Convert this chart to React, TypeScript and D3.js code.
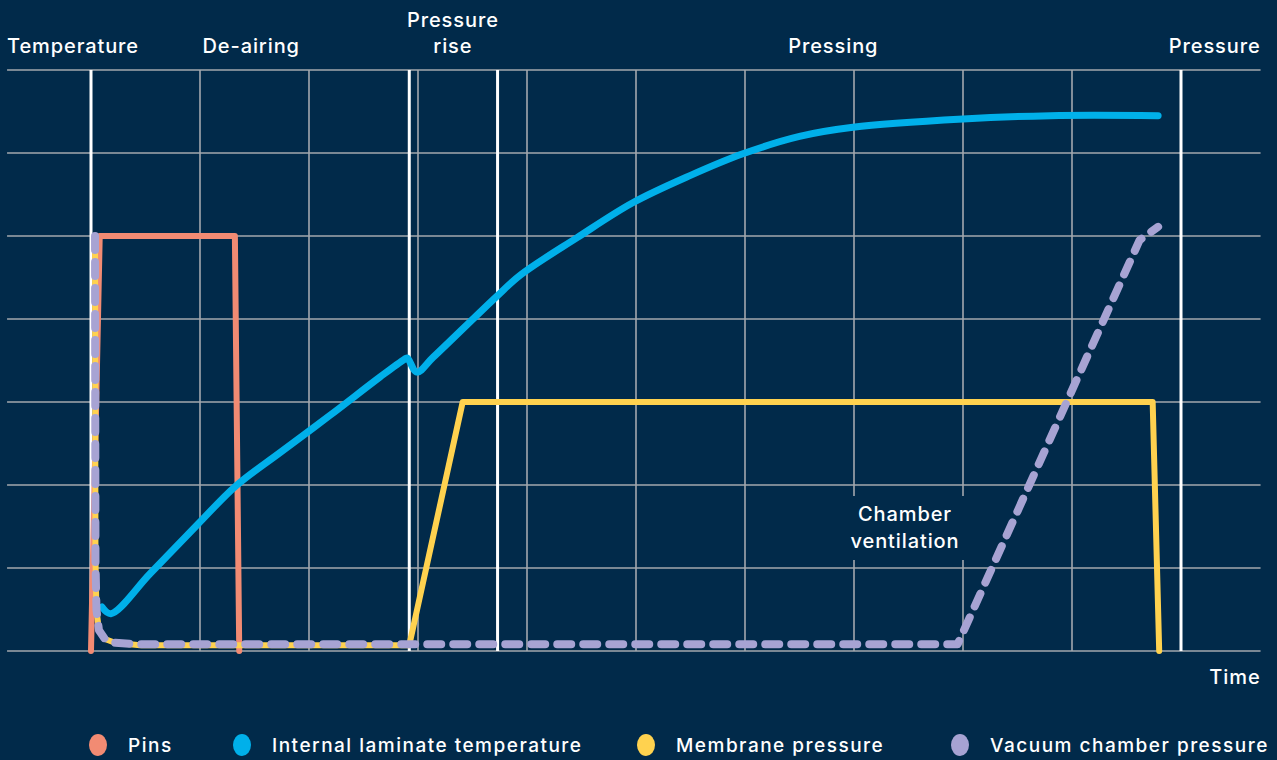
import React from "react";
import * as d3 from "d3";

// time units 0..100, level units 0..7
const gridTimes = [10, 20, 30, 40, 50, 60, 70, 80, 90];
const phaseTimes = [0, 29.2, 37.3, 100];
const gridLevels = [0, 1, 2, 3, 4, 5, 6, 7];

const phaseLabels = [
  { lines: ["Temperature"], t: -7.7, anchor: "start" },
  { lines: ["De-airing"], t: 14.7, anchor: "middle" },
  { lines: ["Pressure", "rise"], t: 33.2, anchor: "middle" },
  { lines: ["Pressing"], t: 68.1, anchor: "middle" },
  { lines: ["Pressure"], t: 107.3, anchor: "end" },
];

const pins = [
  [0, 0], [0.8, 5], [13.2, 5], [13.6, 0],
];

const laminateTemp = [
  [1.01, 0.53], [1.83, 0.45], [5.41, 0.93], [9.82, 1.53], [13.3, 1.99],
  [17.34, 2.39], [21.93, 2.84], [26.5, 3.30], [28.7, 3.51], [29.0, 3.53],
  [29.9, 3.36], [31.4, 3.54], [37.2, 4.27], [39.4, 4.53], [44.6, 4.98],
  [49.7, 5.40], [55.0, 5.73], [59.8, 5.99], [65.0, 6.2], [69.9, 6.31],
  [80.0, 6.41], [88.0, 6.45], [97.9, 6.45],
];

const membranePressure = [
  [0.37, 5], [0.41, 1.1], [0.5, 0.5], [0.73, 0.25], [1.28, 0.145],
  [2.2, 0.1], [4.5, 0.07], [29.2, 0.07], [34.1, 3], [97.4, 3], [98.0, 0],
];

const vacuumPressure = [
  [0.37, 5], [0.41, 1.1], [0.5, 0.5], [0.73, 0.25], [1.28, 0.145],
  [2.2, 0.1], [4.5, 0.08], [79.5, 0.08], [96.2, 4.95], [97.9, 5.11],
];

const legendItems = [
  { name: "Pins", color: "#f28b73" },
  { name: "Internal laminate temperature", color: "#00b0ea" },
  { name: "Membrane pressure", color: "#ffd24f" },
  { name: "Vacuum chamber pressure", color: "#a7a3d3" },
];
const legendX = [98, 242, 646, 960];

const W = 1277;
const H = 760;
const BG = "#012a4a";
const FONT = "Inter, 'Noto Sans', sans-serif";

export default function App() {
  const x = d3.scaleLinear().domain([0, 100]).range([91, 1181]);
  const y = d3.scaleLinear().domain([0, 7]).range([651, 70]);

  const linear = d3.line<number[]>().x((d) => x(d[0])).y((d) => y(d[1]));
  const smooth = d3
    .line<number[]>()
    .x((d) => x(d[0]))
    .y((d) => y(d[1]))
    .curve(d3.curveCatmullRom.alpha(0.5));

  const x0 = x(-7.7);
  const x1 = x(107.3);

  const label = { fill: "#fff", fontFamily: FONT, fontSize: 20, fontWeight: 500, letterSpacing: 0.9 };

  return (
    <div style={{ position: "fixed", left: 0, top: 0 }}>
      <svg width={W} height={H} style={{ display: "block", background: BG }}>
        <rect width={W} height={H} fill={BG} />
        {gridLevels.map((v) => (
          <line key={"h" + v} x1={x0} x2={x1} y1={y(v)} y2={y(v)} stroke="#a3a8ae" strokeWidth={1.6} />
        ))}
        {gridTimes.map((t) => (
          <line key={"v" + t} x1={x(t)} x2={x(t)} y1={y(7)} y2={y(0)} stroke="#a3a8ae" strokeWidth={1.6} />
        ))}
        {phaseTimes.map((t) => (
          <line key={"p" + t} x1={x(t)} x2={x(t)} y1={y(7)} y2={y(0)} stroke="#ffffff" strokeWidth={3} />
        ))}

        {/* chamber ventilation label with backing */}
        <rect x={843} y={496} width={126} height={64} fill={BG} />
        <text x={905} y={521} textAnchor="middle" {...label}>
          Chamber
        </text>
        <text x={905} y={548} textAnchor="middle" {...label}>
          ventilation
        </text>

        <path d={linear(pins) || ""} fill="none" stroke="#f28b73" strokeWidth={6} strokeLinecap="round" strokeLinejoin="round" />
        <path d={smooth(laminateTemp) || ""} fill="none" stroke="#00b0ea" strokeWidth={7} strokeLinecap="round" strokeLinejoin="round" />
        <path d={linear(membranePressure) || ""} fill="none" stroke="#ffd24f" strokeWidth={6} strokeLinecap="round" strokeLinejoin="round" />
        <path
          d={linear(vacuumPressure) || ""}
          fill="none"
          stroke="#a7a3d3"
          strokeWidth={8}
          strokeLinecap="round"
          strokeLinejoin="round"
          strokeDasharray="14 12"
        />

        {phaseLabels.map((p) =>
          p.lines.map((ln, i) => (
            <text
              key={p.lines.join() + i}
              x={x(p.t)}
              y={53 - (p.lines.length - 1 - i) * 26}
              textAnchor={p.anchor as any}
              {...label}
            >
              {ln}
            </text>
          ))
        )}
        <text x={x1} y={684} textAnchor="end" {...label}>
          Time
        </text>

        {legendItems.map((d, i) => (
          <g key={d.name} transform={`translate(${legendX[i]},745)`}>
            <ellipse rx={9} ry={11} fill={d.color} />
            <text x={30} y={7} fill="#fff" fontFamily={FONT} fontSize={19} fontWeight={500} letterSpacing={1.5}>
              {d.name}
            </text>
          </g>
        ))}
      </svg>
    </div>
  );
}
